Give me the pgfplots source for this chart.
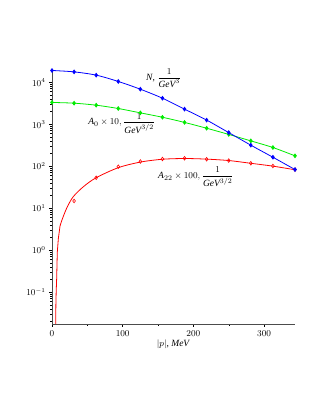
\documentclass[border=0pt]{standalone}
\usepackage{amsmath}
\usepackage{fontspec}
\setmainfont{Liberation Serif}
\usepackage{pgfplots}
\pgfplotsset{compat=1.18}
\definecolor{mred}{RGB}{255,0,0}
\definecolor{mgreen}{RGB}{0,235,0}
\definecolor{mblue}{RGB}{0,0,255}
\begin{document}
\begin{tikzpicture}[x=1pt,y=1pt]
% page frame, same proportions as the reference
\path (0,0) rectangle (323,418);
\begin{axis}[
    at={(52pt,94pt)}, anchor=south west,
    scale only axis, width=243pt, height=254pt,
    ymode=log,
    xmin=0, xmax=343.75, ymin=0.0174, ymax=19500,
    axis lines=left,
    axis line style={-, gray!60!black, line width=0.8pt},
    xtick={0,100,200,300}, minor xtick={50,150,250},
    ytick={0.1,1,10,100,1000,10000},
    minor ytick={0.02,0.03,0.04,0.05,0.06,0.07,0.08,0.09,
                 0.2,0.3,0.4,0.5,0.6,0.7,0.8,0.9,
                 2,3,4,5,6,7,8,9,
                 20,30,40,50,60,70,80,90,
                 200,300,400,500,600,700,800,900,
                 2000,3000,4000,5000,6000,7000,8000,9000},
    tick align=outside,
    major tick length=3pt, minor tick length=1.8pt,
    tick style={black, line width=0.4pt},
    ticklabel style={font=\fontsize{9}{10}\selectfont},
    xlabel={$|p|$, \textit{MeV}},
    xlabel style={font=\fontsize{9.5}{11}\selectfont, yshift=3pt},
    clip=false,
]
% A22 x 100: steep part near zero, then smooth part
\addplot[mred, line width=0.8pt] coordinates {
    (5.2,0.0174) (5.5,0.05) (5.9,0.1) (6.6,0.21) (7.5,0.9) (9,1.9) (11.3,3.7)
};
\addplot[mred, line width=0.8pt, smooth] coordinates {
    (11.3,3.7) (13.7,5) (20.8,10) (30,18.7) (45,33) (62.5,53)
    (93.75,92) (125,125) (156.25,146) (187.5,152) (218.75,147)
    (250,136) (281.25,117) (312.5,100) (343.75,82)
};
\addplot[only marks, mred, mark=diamond, mark size=1.8pt, mark options={line width=0.6pt}] coordinates {
    (31.25,14.8) (62.5,53) (93.75,97) (125,129) (156.25,148) (187.5,154)
    (218.75,146) (250,136) (281.25,117) (312.5,101) (343.75,83)
};
% A0 x 10
\addplot[mgreen, line width=0.8pt, smooth, mark=diamond*, mark size=1.8pt] coordinates {
    (0,3290) (31.25,3160) (62.5,2830) (93.75,2360) (125,1860) (156.25,1460)
    (187.5,1100) (218.75,800) (250,570) (281.25,400) (312.5,278) (343.75,176)
};
% N
\addplot[mblue, line width=0.8pt, smooth, mark=diamond*, mark size=1.8pt] coordinates {
    (0,19000) (31.25,17600) (62.5,14700) (93.75,10400) (125,6800) (156.25,4150)
    (187.5,2280) (218.75,1250) (250,630) (281.25,316) (312.5,163) (343.75,83)
};
\node[anchor=west, font=\fontsize{9.5}{11}\selectfont, inner sep=0pt] at (axis cs:133,12500)
    {\textit{N}, $\dfrac{1}{\textit{GeV}^{3}}$};
\node[anchor=west, font=\fontsize{9.5}{11}\selectfont, inner sep=0pt] at (axis cs:51,1050)
    {$\textit{A}_{0}\times10,\dfrac{1}{\textit{GeV}^{3/2}}$};
\node[anchor=west, font=\fontsize{9.5}{11}\selectfont, inner sep=0pt] at (axis cs:150,55)
    {$\textit{A}_{22}\times100,\dfrac{1}{\textit{GeV}^{3/2}}$};
\end{axis}
\end{tikzpicture}
\end{document}
